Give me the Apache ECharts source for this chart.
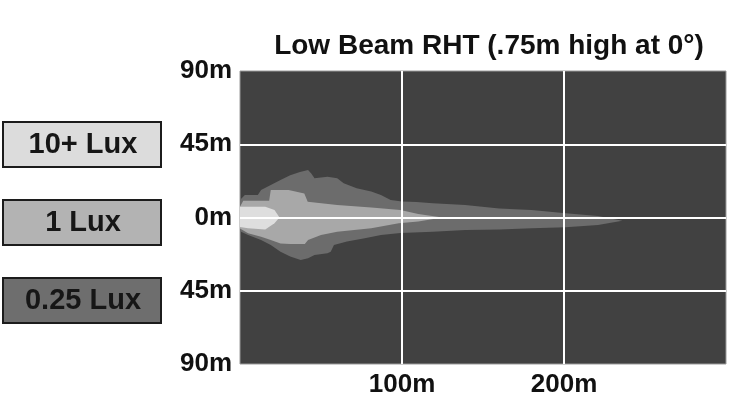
<!DOCTYPE html>
<html><head><meta charset="utf-8">
<script src="https://cdn.jsdelivr.net/npm/echarts@6/dist/echarts.min.js"></script>
<style>html,body{margin:0;padding:0;background:#fff}#c{width:729px;height:399px}</style>
</head><body><div id="c"></div>
<script>
const chartTitle = 'Low Beam RHT (.75m high at 0°)';
const legendLabels = ['10+ Lux', '1 Lux', '0.25 Lux'];
const xTickLabels = ['', '100m', '200m', ''];          // ticks 0,100,200,300
const yTickLabels = ['90m', '45m', '0m', '45m', '90m']; // ticks -90..90
// beam contours [distance m, lateral m]
const beam025 = [[0,10.7],[3,13.8],[11,13.8],[13,16.9],[19,20],[25,23],[31,26],[37,28],[42,29.2],[44,27],[46,24.1],[54,25],[60,24.1],[64,21],[72,17.9],[81,15.9],[87,13.8],[93,10.7],[100,9.9],[109,9.5],[119,8.7],[139,7.7],[160,5.6],[180,4.6],[201,2.6],[221,0.9],[236,-2],
  [221,-4.6],[201,-6],[180,-6.6],[160,-7.3],[139,-7.7],[119,-8.7],[99,-9.5],[87,-10.7],[77,-12.8],[66,-14.8],[58,-16.9],[56,-21],[54,-22],[46,-23],[42,-25],[37.5,-26.1],[31,-24],[25,-21],[19,-16.9],[13,-13.8],[5,-10.7],[0,-8.5]];
const beam1 = [[0,6.6],[2,10.3],[18,10.3],[19,16.9],[30,16.9],[39.7,14.8],[41.8,9.7],[60,7.7],[81,6.2],[99,4.6],[110,2.1],[125,0],
  [110,-2.5],[98,-3.6],[81,-6.6],[60,-8.7],[50,-10.7],[42,-13.8],[40,-16.3],[31,-16.3],[25,-15.9],[19,-13.8],[13,-11.8],[5,-9.7],[0,-6.8]];
const beam10 = [[0,6.6],[15.6,6.6],[21.3,4.6],[24.4,0],[21.3,-3.6],[15.6,-7.3],[5,-6.6],[0,-5.8]];

const FONT = '"Liberation Sans Narrow", "Liberation Sans", Arial, sans-serif';
const colors = { bg:'#414141', c025:'#6c6c6c', c1:'#a8a8a8', c10:'#dedede' };
const legendFills = ['#dcdcdc', '#b3b3b3', '#6e6e6e'];

function beamSeries(name, pts, color) {
  return {
    type: 'custom', name: name, coordinateSystem: 'cartesian2d', data: pts,
    encode: { x: 0, y: 1 }, silent: true, clip: true, z: 2,
    renderItem: function (params, api) {
      if (params.dataIndexInside !== 0) return null;
      return { type: 'polygon', shape: { points: pts.map(function (p) { return api.coord(p); }) },
               style: { fill: color } };
    }
  };
}

const chart = echarts.init(document.getElementById('c'), null, { renderer: 'canvas' });
const graphics = legendLabels.map(function (lab, i) {
  return {
    type: 'group', left: 2, top: 121 + i * 78,
    children: [
      { type: 'rect', shape: { x: 0, y: 0, width: 158, height: 45 },
        style: { fill: legendFills[i], stroke: '#1c1c1c', lineWidth: 2 } },
      { type: 'text', x: 80, y: 23,
        style: { text: lab, font: 'bold 29px ' + FONT, fill: '#161616', textAlign: 'center', textVerticalAlign: 'middle' } }
    ]
  };
});
chart.setOption({
  animation: false,
  title: { text: chartTitle, left: 484, textAlign: 'center', top: 27,
           textStyle: { fontFamily: FONT, fontWeight: 'bold', fontSize: 28, color: '#111' } },
  grid: { left: 240, right: 1, top: 71, bottom: 35, show: true, backgroundColor: colors.bg,
          borderColor: '#9a9a9a', borderWidth: 1 },
  xAxis: {
    type: 'value', min: 0, max: 300, interval: 100, z: 5,
    axisLine: { show: false }, axisTick: { show: false },
    axisLabel: { margin: 8, fontFamily: FONT, fontWeight: 'bold', fontSize: 26, color: '#111',
                 formatter: function (v) { return xTickLabels[Math.round(v / 100)]; } },
    splitLine: { show: true, showMinLine: false, showMaxLine: false, lineStyle: { color: '#ffffff', width: 2 } }
  },
  yAxis: {
    type: 'value', min: -90, max: 90, interval: 45, z: 5,
    axisLine: { show: false }, axisTick: { show: false },
    axisLabel: { margin: 8, fontFamily: FONT, fontWeight: 'bold', fontSize: 26, color: '#111',
                 formatter: function (v) { return yTickLabels[Math.round((v + 90) / 45)]; } },
    splitLine: { show: true, showMinLine: false, showMaxLine: false, lineStyle: { color: '#ffffff', width: 2 } }
  },
  graphic: graphics,
  series: [
    beamSeries('0.25 Lux', beam025, colors.c025),
    beamSeries('1 Lux', beam1, colors.c1),
    beamSeries('10+ Lux', beam10, colors.c10)
  ]
});
</script></body></html>
